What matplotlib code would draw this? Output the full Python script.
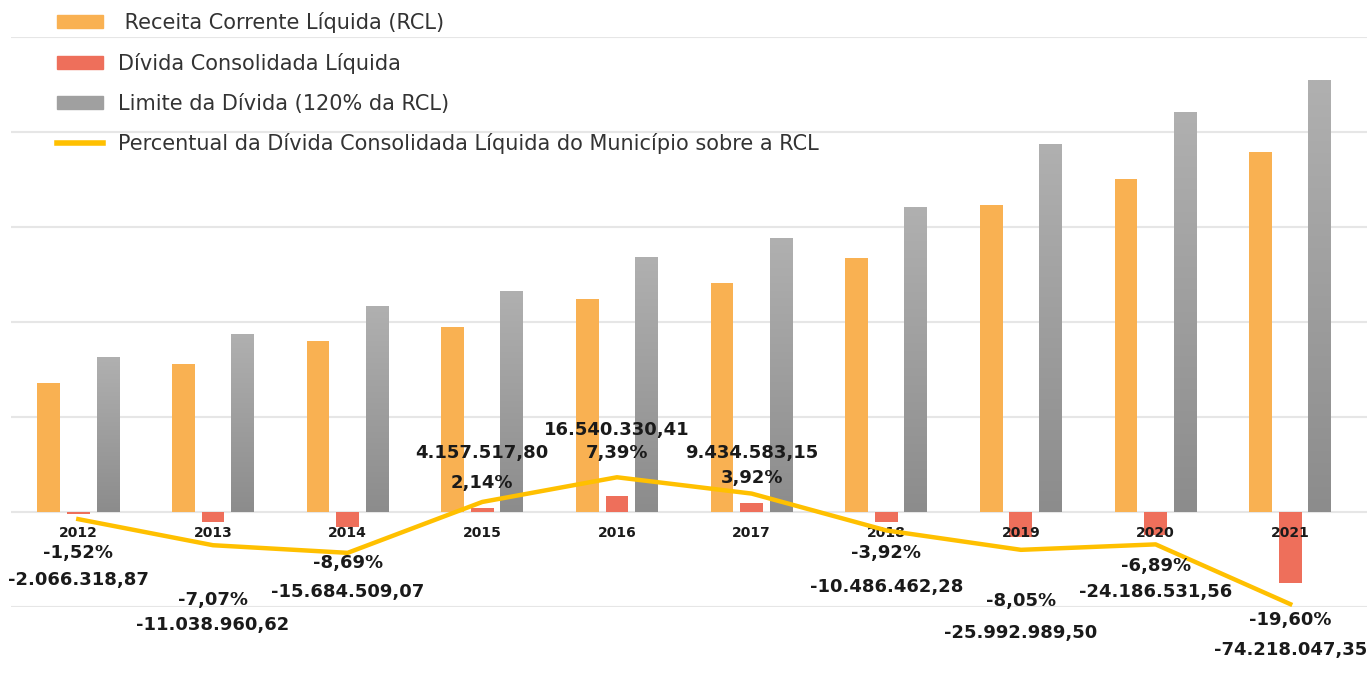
import numpy as np
import matplotlib
matplotlib.use('Agg')
import matplotlib.pyplot as plt
from matplotlib.patches import Patch
from matplotlib.lines import Line2D

# data (RCL and limit in R$ millions, debt in R$)
years = ['2012', '2013', '2014', '2015', '2016', '2017', '2018', '2019', '2020', '2021']
rcl = [135.94, 156.14, 180.49, 194.28, 223.82, 240.68, 267.51, 322.89, 351.04, 378.66]
limite = [163.1, 187.4, 216.6, 233.1, 268.6, 288.8, 321.0, 387.5, 421.2, 454.4]
divida = [-2066318.87, -11038960.62, -15684509.07, 4157517.80, 16540330.41,
          9434583.15, -10486462.28, -25992989.50, -24186531.56, -74218047.35]
percentual = [-1.52, -7.07, -8.69, 2.14, 7.39, 3.92, -3.92, -8.05, -6.89, -19.60]

legend_labels = [' Receita Corrente Líquida (RCL)', 'Dívida Consolidada Líquida',
                 'Limite da Dívida (120% da RCL)',
                 'Percentual da Dívida Consolidada Líquida do Município sobre a RCL']

# label offsets from the line point, in pixels
pct_dy = [-34, -55, -10, 19, 24, 16, -23, -51, -22, -16]
amt_dy = [-61, -80, -39, 49, 47, 41, -57, -83, -48, -46]

c_rcl = '#F9B152'
c_div = '#EE6F5B'
c_lim = '#a0a0a0'
c_line = '#FFC000'
c_txt = '#1a1a1a'


def br(v):
    s = '{:,.2f}'.format(v)
    return s.replace(',', '#').replace('.', ',').replace('#', '.')


fig = plt.figure(figsize=(13.67, 6.96), dpi=100)
ax = fig.add_axes([11 / 1367, 1 - 607 / 696, 1 - 11 / 1367, (607 - 37) / 696])

x = np.arange(len(years))
w = 0.17
off = 0.22
div_m = np.array(divida) / 1e6

ax.bar(x - off, rcl, w, color=c_rcl, zorder=2)
ax.bar(x, div_m, w, color=c_div, zorder=2)
bars = ax.bar(x + off, limite, w, color=c_lim, zorder=2)

# vertical gradient on the limit bars
grad = np.linspace(0, 1, 256).reshape(-1, 1)
cmap = matplotlib.colors.LinearSegmentedColormap.from_list('g', ['#8c8c8c', '#b0b0b0'])
for b in bars:
    x0, y0 = b.get_x(), b.get_y()
    im = ax.imshow(grad, cmap=cmap, aspect='auto', origin='lower',
                   extent=[x0, x0 + b.get_width(), y0, y0 + b.get_height()], zorder=2.1)
    im.set_clip_path(b)

ax.set_xlim(-0.5, 9.57)
ax.set_ylim(-100, 500)
ax.set_yticks(np.arange(-100, 501, 100))
ax.grid(axis='y', color='#e6e6e6', lw=1.5, zorder=0)
ax.set_axisbelow(True)
for s in ax.spines.values():
    s.set_visible(False)

for xi, yr in zip(x, years):
    ax.annotate(yr, (xi, 0), xytext=(0, -21), textcoords='offset pixels',
                ha='center', va='center', fontsize=10, fontweight='bold', color=c_txt)

ax2 = ax.twinx()
ax2.set_ylim(-100 / 4.947, 500 / 4.947)
ax2.plot(x, percentual, color=c_line, lw=3.2, zorder=3)
ax2.axis('off')
# twinx turns the left ticks back on
ax.tick_params(left=False, right=False, bottom=False, labelleft=False, labelbottom=False)

for xi, p, d, dp, da in zip(x, percentual, divida, pct_dy, amt_dy):
    ax2.annotate('{:.2f}%'.format(p).replace('.', ','), (xi, p), xytext=(0, dp),
                 textcoords='offset pixels', ha='center', va='center',
                 fontsize=13, fontweight='bold', color=c_txt, annotation_clip=False)
    ax2.annotate(br(d), (xi, p), xytext=(0, da),
                 textcoords='offset pixels', ha='center', va='center',
                 fontsize=13, fontweight='bold', color=c_txt, annotation_clip=False)

handles = [Patch(color=c_rcl), Patch(color=c_div), Patch(color=c_lim),
           Line2D([0], [0], color=c_line, lw=4)]
leg = fig.legend(handles, legend_labels, loc='upper left',
                 bbox_to_anchor=(57 / 1367, 1 - 12 / 696), frameon=False,
                 fontsize=15, handlelength=2.2, handleheight=0.6,
                 labelspacing=0.95, handletextpad=0.72, borderaxespad=0, borderpad=0)
for t in leg.get_texts():
    t.set_color('#333333')

fig.savefig('out.png', dpi=100)
